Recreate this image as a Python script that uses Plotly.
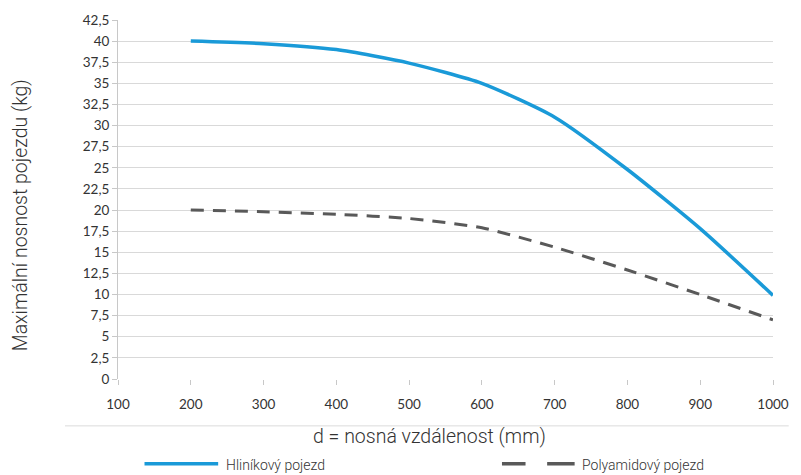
import plotly.graph_objects as go

x_vals = [200, 300, 400, 500, 600, 700, 800, 900, 1000]
hlinik = [40, 39.7, 39.0, 37.4, 35.0, 31.0, 24.8, 17.8, 9.9]
polyamid = [20, 19.8, 19.5, 19.0, 17.9, 15.6, 12.9, 10.0, 7.0]
x_ticks = [100, 200, 300, 400, 500, 600, 700, 800, 900, 1000]
y_ticks = [0, 2.5, 5, 7.5, 10, 12.5, 15, 17.5, 20, 22.5, 25, 27.5, 30, 32.5, 35, 37.5, 40, 42.5]
names = ["Hliníkový pojezd", "Polyamidový pojezd"]
x_title = "d = nosná vzdálenost (mm)"
y_title = "Maximální nosnost pojezdu (kg)"

blue = "#1a9ad8"
gray = "#595959"

fig = go.Figure()
fig.add_trace(go.Scatter(x=x_vals, y=hlinik, mode="lines", name=names[0],
                         line=dict(color=blue, width=3.5, shape="spline", smoothing=0.6),
                         showlegend=False))
fig.add_trace(go.Scatter(x=x_vals, y=polyamid, mode="lines", name=names[1],
                         line=dict(color=gray, width=3, dash="13px,9px", shape="spline", smoothing=0.6),
                         showlegend=False))

tickfont = dict(family="Lato, Open Sans, sans-serif", size=13.5, color="#333333")
fig.update_xaxes(range=[100, 1000], tickvals=x_ticks, ticks="outside", ticklen=5,
                 tickcolor="#c8c8c8", showgrid=False, zeroline=False, showline=False,
                 tickfont=tickfont, ticklabelstandoff=8, ticklabeloverflow="allow")
fig.update_yaxes(range=[0, 42.5], tickvals=y_ticks, ticks="outside", ticklen=5,
                 tickcolor="#c8c8c8", showgrid=True, gridcolor="#d9d9d9", gridwidth=1,
                 zeroline=False, showline=True, linecolor="#c8c8c8", linewidth=1,
                 tickfont=tickfont)

W, H = 801, 475
L, R, T, B = 118, 16, 19, 96
ph = H - T - B
pw = W - L - R

def px_x(p):
    return (p - L) / pw

def px_y(p):
    return (T + ph - p) / ph

titlefont = dict(family="Roboto, sans-serif", size=19.5, color="#333333", weight=300)
legfont = dict(family="Roboto, sans-serif", size=14, color="#333333", weight=300)

annotations = [
    dict(text=x_title, x=px_x(435), y=px_y(437), xref="paper", yref="paper",
         showarrow=False, xanchor="center", yanchor="middle", font=titlefont),
    dict(text=y_title, x=px_x(19), y=px_y(215), xref="paper", yref="paper",
         showarrow=False, xanchor="center", yanchor="middle", textangle=-90, font=titlefont),
    dict(text=names[0], x=px_x(226), y=px_y(465), xref="paper", yref="paper",
         showarrow=False, xanchor="left", yanchor="middle", font=legfont),
    dict(text=names[1], x=px_x(588), y=px_y(465), xref="paper", yref="paper",
         showarrow=False, xanchor="left", yanchor="middle", font=legfont),
]

shapes = [
    dict(type="line", xref="paper", yref="paper", x0=px_x(64), x1=px_x(801),
         y0=px_y(426), y1=px_y(426), line=dict(color="#dcdcdc", width=1)),
    dict(type="line", xref="paper", yref="paper", x0=px_x(145), x1=px_x(220),
         y0=px_y(464), y1=px_y(464), line=dict(color=blue, width=3.5)),
    dict(type="line", xref="paper", yref="paper", x0=px_x(509), x1=px_x(533),
         y0=px_y(464), y1=px_y(464), line=dict(color=gray, width=3.5)),
    dict(type="line", xref="paper", yref="paper", x0=px_x(555), x1=px_x(583),
         y0=px_y(464), y1=px_y(464), line=dict(color=gray, width=3.5)),
]

fig.update_layout(width=W, height=H, autosize=False, margin=dict(l=L, r=R, t=T, b=B),
                  paper_bgcolor="white", plot_bgcolor="white",
                  separators=", ", showlegend=False,
                  annotations=annotations, shapes=shapes)

fig.write_html("out.html", config={"responsive": False, "displayModeBar": False},
               post_script="document.body.style.margin='0';document.body.style.overflow='hidden';")
